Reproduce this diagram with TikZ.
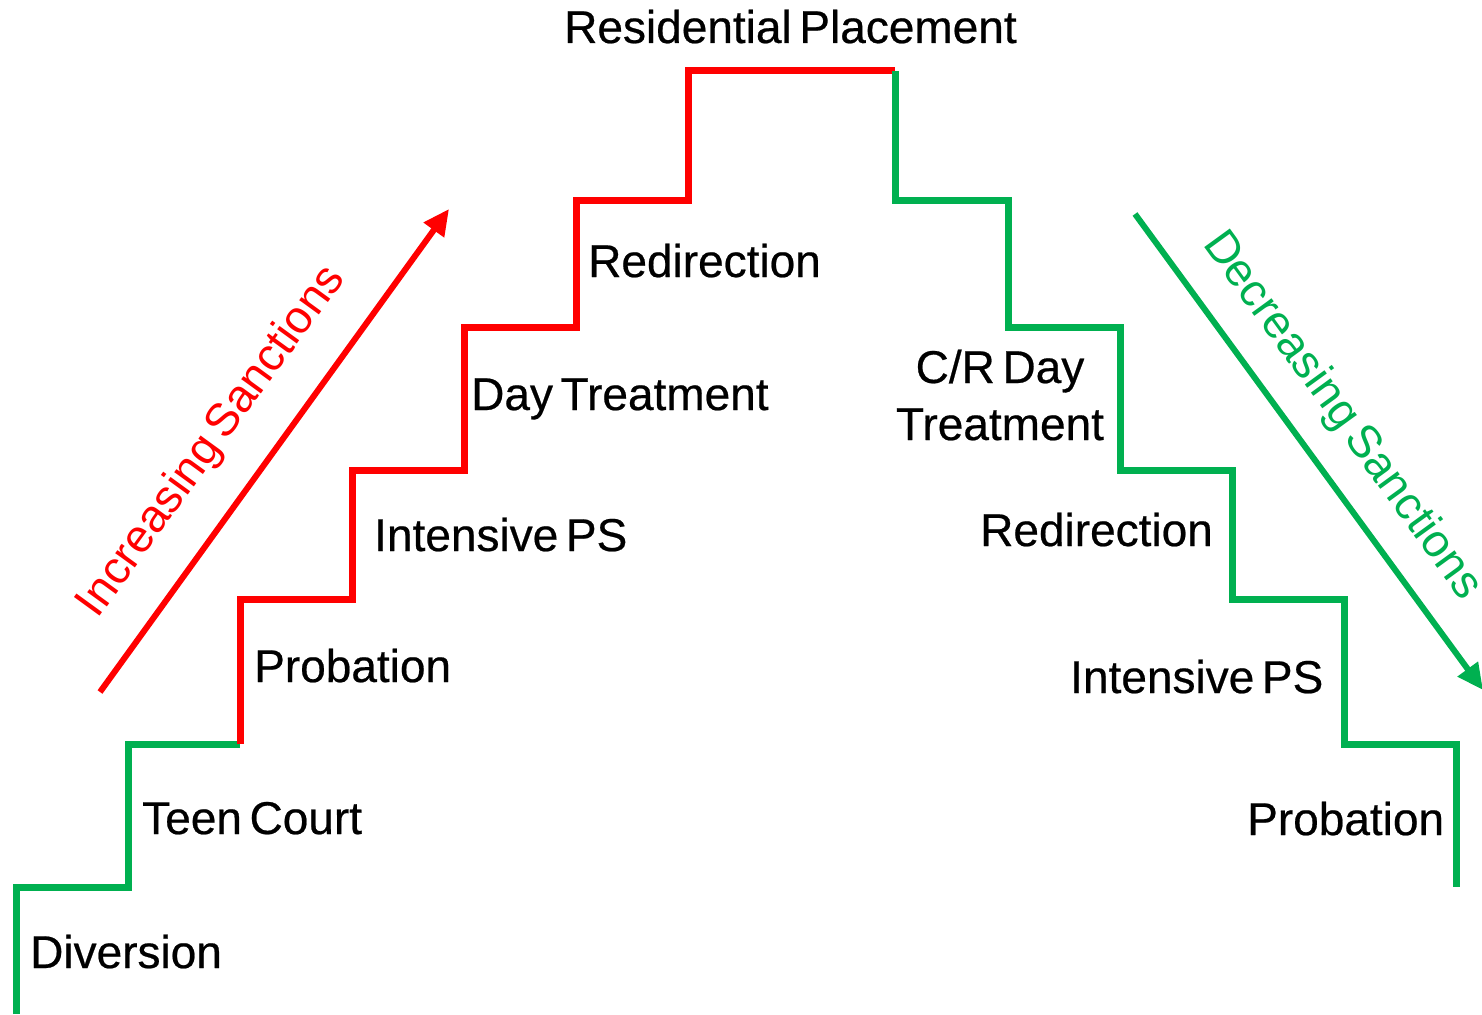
\documentclass[tikz,border=0pt]{standalone}
\usepackage{fontspec}
\setmainfont{Liberation Sans}[WordSpace=0.6]
\newfontfamily\lblfont{Liberation Sans}[WordSpace=0.6,FakeBold=0.5]
\usetikzlibrary{arrows.meta}
\definecolor{sred}{RGB}{255,0,0}
\definecolor{sgreen}{RGB}{0,176,80}
\begin{document}
\begin{tikzpicture}[x=1pt,y=-1pt,
  lbl/.style={font=\lblfont\fontsize{46}{55}\selectfont, inner sep=0pt, anchor=base west},
  clbl/.style={font=\lblfont\fontsize{46}{55}\selectfont, inner sep=0pt, anchor=base},
  rlbl/.style={font=\fontsize{46}{55}\selectfont, inner sep=0pt},
  stair/.style={line width=7pt, line join=miter, line cap=butt},
  sarrow/.style={line width=6pt, -{Triangle[length=26pt,width=24pt]}}]
\useasboundingbox (0,0) rectangle (1482,1014);
% staircase
\draw[stair, sgreen] (16,1014) -- (16,887) -- (128,887) -- (128,744) -- (240,744);
\draw[stair, sred] (240,744) -- (240,599) -- (352,599) -- (352,470) -- (464,470) -- (464,327) -- (576,327) -- (576,200) -- (688,200) -- (688,71) -- (895,71);
\draw[stair, sgreen] (895,71) -- (895,200) -- (1008,200) -- (1008,327) -- (1120,327) -- (1120,470) -- (1232,470) -- (1232,599) -- (1344,599) -- (1344,744) -- (1456,744) -- (1456,887);
% arrows
\coordinate (ia) at (100,692);
\coordinate (ib) at (449,209);
\coordinate (da) at (1135,214);
\coordinate (db) at (1483,690);
\draw[sarrow, sred] (ia) -- (ib);
\draw[sarrow, sgreen] (da) -- (db);
\node[rlbl, rotate=54, text=sred] (inc) at (212,442) {Increasing Sanctions};
\node[rlbl, rotate=-54, text=sgreen] (dec) at (1342,416) {Decreasing Sanctions};
% labels
\node[lbl] (div) at (30,968) {Diversion};
\node[lbl] (teen) at (142,834) {Teen Court};
\node[lbl] (prob) at (254,682) {Probation};
\node[lbl] (ips) at (374,551) {Intensive PS};
\node[lbl] (dt) at (471,410) {Day Treatment};
\node[lbl] (red) at (588,277) {Redirection};
\node[lbl] (res) at (564,43) {Residential Placement};
\node[clbl] (crd) at (1000,383) {C/R Day};
\node[clbl] (crt) at (1000,440) {Treatment};
\node[lbl] (red2) at (980,546) {Redirection};
\node[lbl] (ips2) at (1070,693) {Intensive PS};
\node[lbl] (prob2) at (1247,835) {Probation};
\end{tikzpicture}
\end{document}
